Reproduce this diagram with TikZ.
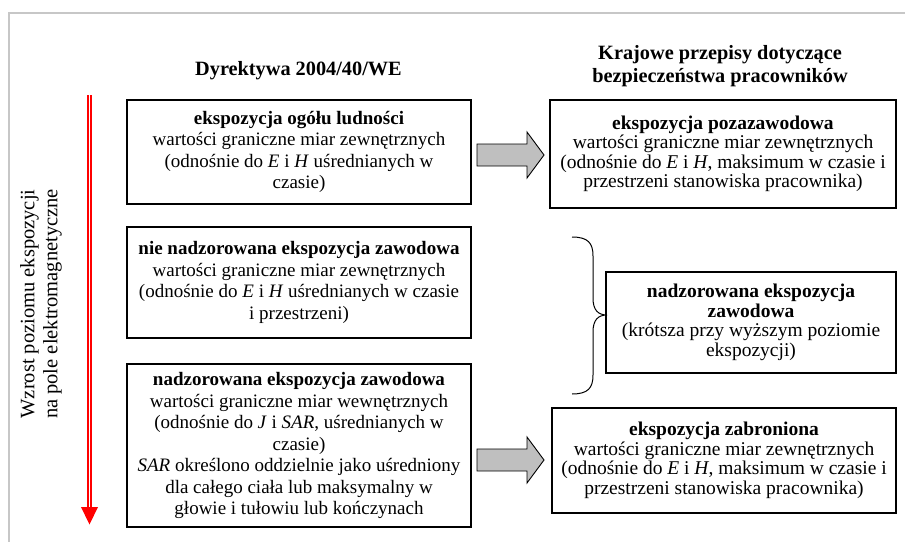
\documentclass[tikz,border=0pt]{standalone}
\usepackage{fontspec}
\setmainfont{Liberation Serif}
\begin{document}
\begin{tikzpicture}[x=1pt,y=-1pt,
  lbox/.style={draw=black, line width=1.1pt, minimum width=344pt, align=center, inner sep=0pt, font=\fontsize{19}{21.5}\selectfont},
  rbox/.style={draw=black, line width=1.3pt, align=center, inner sep=0pt, font=\fontsize{19.5}{19.5}\selectfont},
  ttl/.style={font=\fontsize{20.3}{23}\selectfont\bfseries, align=center, inner sep=0pt},
  vtext/.style={rotate=90, align=center, inner sep=0pt, font=\fontsize{20.5}{23}\selectfont},
  garrow/.style={draw=black, line width=0.9pt, fill=black!25},
  frameline/.style={draw=black!22, line width=2.2pt},
  redshaft/.style={draw=red, double=white, line width=1.5pt, double distance=1.8pt},
  bracepath/.style={draw=black, line width=1pt}]
\useasboundingbox (0,0) rectangle (905,541);
\draw[frameline] (9.3,560) -- (9.3,13.3) -- (920,13.3);

% titles
\node[ttl, anchor=base] (t1) at (298.5,75) {Dyrektywa 2004/40/WE};
\node[ttl] (t2) at (720,65.8) {Krajowe przepisy dotyczące\\ bezpieczeństwa pracowników};

% vertical label
\node[vtext] (lvl) at (41,304) {Wzrost poziomu ekspozycji\\ na pole elektromagnetyczne};

% red arrow
\coordinate (rtop) at (89.5,95);
\coordinate (rbase) at (89.5,507);
\coordinate (rtip) at (89.5,524.5);
\draw[redshaft] (rtop) -- (rbase);
\fill[red] (81,507) -- (98,507) -- (rtip) -- cycle;

% left boxes
\node[lbox, minimum height=104pt] (b1) at (299,152) {\textbf{ekspozycja ogółu ludności}\\ wartości graniczne miar zewnętrznych\\ (odnośnie do \textit{E} i \textit{H} uśrednianych w\\ czasie)};
\node[lbox, minimum height=111pt] (b2) at (299,282.5) {\textbf{nie nadzorowana ekspozycja zawodowa}\\ wartości graniczne miar zewnętrznych\\ (odnośnie do \textit{E} i \textit{H} uśrednianych w czasie\\ i przestrzeni)};
\node[lbox, minimum height=163pt] (b3) at (299,445.5) {\textbf{nadzorowana ekspozycja zawodowa}\\ wartości graniczne miar wewnętrznych\\ (odnośnie do \textit{J} i \textit{SAR}, uśrednianych w\\ czasie)\\ \textit{SAR} określono oddzielnie jako uśredniony\\ dla całego ciała lub maksymalny w\\ głowie i tułowiu lub kończynach};

% right boxes
\node[rbox, minimum width=346pt, minimum height=108pt] (r1) at (723,154) {\textbf{ekspozycja pozazawodowa}\\ wartości graniczne miar zewnętrznych\\ (odnośnie do \textit{E} i \textit{H}, maksimum w czasie i\\ przestrzeni stanowiska pracownika)};
\node[rbox, minimum width=290pt, minimum height=101pt] (r2) at (751,322.5) {\textbf{nadzorowana ekspozycja}\\ \textbf{zawodowa}\\ (krótsza przy wyższym poziomie\\ ekspozycji)};
\node[rbox, minimum width=344pt, minimum height=105pt] (r3) at (724,460.5) {\textbf{ekspozycja zabroniona}\\ wartości graniczne miar zewnętrznych\\ (odnośnie do \textit{E} i \textit{H}, maksimum w czasie i\\ przestrzeni stanowiska pracownika)};

% block arrows
\foreach \cy in {155,460}{
  \draw[garrow] (477,{\cy-11}) -- (527,{\cy-11}) -- (527,{\cy-23}) -- (544,\cy) -- (527,{\cy+23}) -- (527,{\cy+11}) -- (477,{\cy+11}) -- cycle;
}

% brace
\coordinate (btip) at (607,315);
\draw[bracepath] (572,237) .. controls (588,237) and (593,243) .. (593,256) -- (593,298) .. controls (593,310) and (598,315) .. (btip) .. controls (598,315) and (593,320) .. (593,332) -- (593,375) .. controls (593,388) and (588,394) .. (572,394);
\end{tikzpicture}
\end{document}
